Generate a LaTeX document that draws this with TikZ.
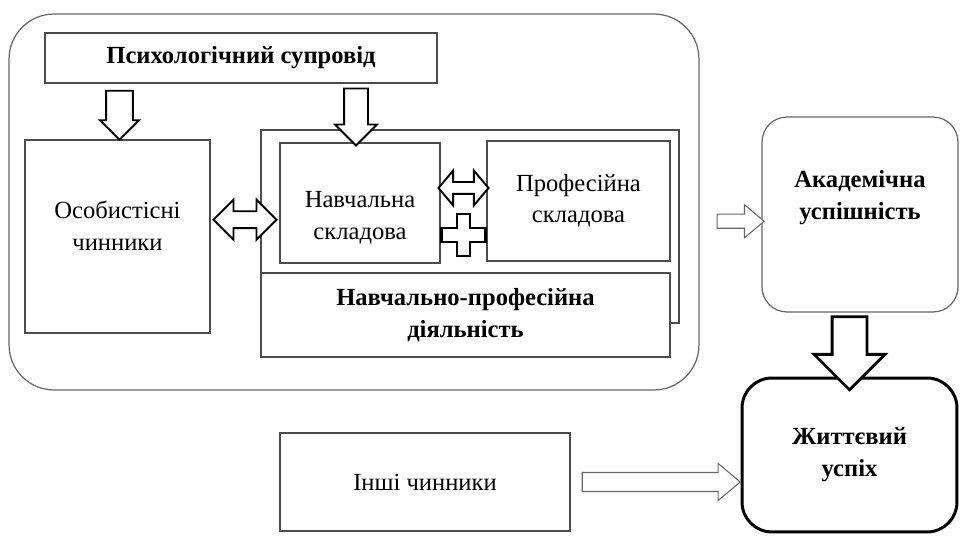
\documentclass[tikz,border=0pt]{standalone}
\usepackage{fontspec}
\setmainfont{Liberation Serif}
\usetikzlibrary{shapes.arrows,calc}

\begin{document}
\begin{tikzpicture}[x=0.02cm, y=-0.02cm,
		align=center,
		every node/.style={font=\fontsize{14}{18}\selectfont},
		box/.style={draw=black!70, line width=0.7pt, inner sep=0pt},
		bold/.style={font=\fontsize{14}{18}\selectfont\bfseries},
		fat/.style={single arrow, draw=black, line width=1.1pt, fill=white, inner xsep=0pt, single arrow tip angle=90},
		twin/.style={double arrow, draw=black, line width=1.1pt, fill=white, inner xsep=0pt, double arrow tip angle=90},
		thin/.style={draw=black!60, line width=0.6pt}]
		
		\useasboundingbox (0,0) rectangle (963,536);
		
		% left block
		\node[box, draw=black!60, rounded corners=0.9cm, minimum width=13.8cm, minimum height=7.52cm] (frame) at (354,202) {};
		\node[box, bold, minimum width=7.84cm, minimum height=1cm] (psych) at (241,58) {Психологічний супровід};
		\node[box, minimum width=3.7cm, minimum height=3.86cm, text depth=12pt] (personal) at (117.5,236.5) {Особистісні\\чинники};
		\node[box, minimum width=8.36cm, minimum height=3.86cm] (activity) at (470,226.5) {};
		\node[box, minimum width=3.2cm, minimum height=2.4cm, text height=44pt] (study) at (360,203) {Навчальна\\складова};
		\node[box, minimum width=3.66cm, minimum height=2.4cm] (prof) at (578.5,201) {Професійна\\складова};
		\node[box, bold, fill=white, minimum width=8.18cm, minimum height=1.68cm] (joint) at (465.5,315) {Навчально-професійна\\діяльність};
		
		% right column
		\node[box, bold, draw=black!60, rounded corners=0.5cm, minimum width=3.92cm, minimum height=3.9cm, text depth=22pt] (academic) at (860,214.5) {Академічна\\успішність};
		\node[box, bold, draw=black, line width=1.7pt, rounded corners=0.6cm, minimum width=4.3cm, minimum height=3.08cm] (life) at (849.5,455) {Життєвий\\успіх};
		\node[box, minimum width=5.8cm, minimum height=1.96cm] (others) at (425,482) {Інші чинники};
		
		% block arrows
		\node[fat, minimum height=0.98cm, inner ysep=0.25cm, single arrow head extend=0.12cm, rotate=-90] (a1) at ($(psych.south -| personal.north)!.5!(personal.north)+(2,-3)$) {};
		\node[fat, minimum height=1.14cm, inner ysep=0.22cm, single arrow head extend=0.18cm, rotate=-90] (a2) at ($(psych.south -| study.north)!.5!(study.north)+(-4,-2)$) {};
		\node[twin, minimum height=1.26cm, inner ysep=0.15cm, double arrow head extend=0.23cm] (d1) at ($(personal.east)!.5!(study.west)$) {};
		\node[twin, minimum height=1cm, inner ysep=0.1cm, double arrow head extend=0.23cm, double arrow tip angle=100] (d2) at ($(study.east)!.5!(prof.west)+(0,-14)$) {};
		\node[fat, thin, minimum height=0.94cm, inner ysep=0.13cm, single arrow head extend=0.19cm, single arrow tip angle=80] (a3) at ($(frame.east)!.5!(academic.west)+(6,13)$) {};
		\node[fat, line width=1.6pt, minimum height=1.46cm, inner ysep=0.32cm, single arrow head extend=0.36cm, rotate=-90] (a4) at ($(academic.south -| life.north)!.5!(life.north)$) {};
		\node[fat, thin, minimum height=3.16cm, inner ysep=0.18cm, single arrow head extend=0.18cm, single arrow tip angle=80] (a5) at ($(others.east)!.5!(life.west |- others.east)$) {};
		
		% plus sign
		\coordinate (plus) at ($(study.east)!.5!(prof.west)+(0,33)$);
		\draw[line width=1.6pt, fill=white] ($(plus)+(-22,-7)$) -- ++(15.5,0) -- ++(0,-14) -- ++(13,0) -- ++(0,14) -- ++(15.5,0) -- ++(0,14) -- ++(-15.5,0) -- ++(0,14) -- ++(-13,0) -- ++(0,-14) -- ++(-15.5,0) -- cycle;
		
	\end{tikzpicture}
\end{document}
